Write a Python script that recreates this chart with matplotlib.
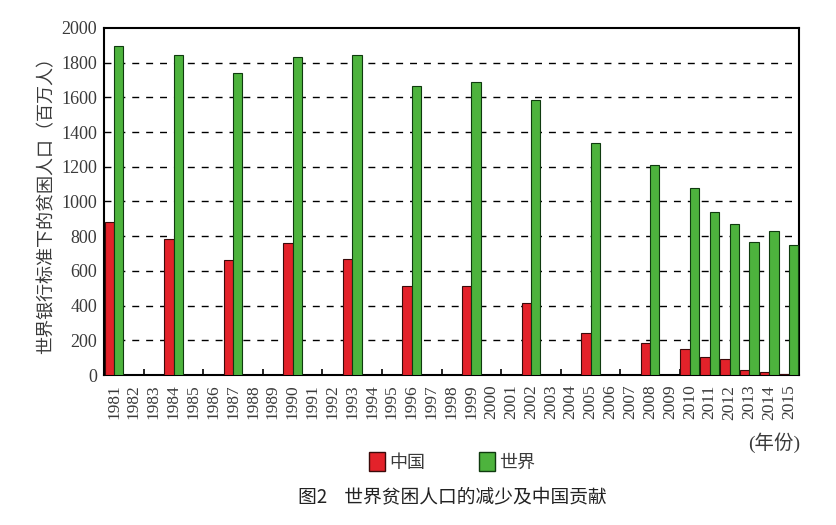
import numpy as np
import matplotlib
matplotlib.use("Agg")
import matplotlib.pyplot as plt
from matplotlib.patches import Patch

plt.rcParams["font.family"] = ["Liberation Serif", "Noto Sans CJK SC", "DejaVu Sans"]
plt.rcParams["axes.unicode_minus"] = False

years = list(range(1981, 2016))
china = {1981: 880, 1984: 785, 1987: 660, 1990: 760, 1993: 667, 1996: 512,
         1999: 512, 2002: 414, 2005: 244, 2008: 183, 2010: 150, 2011: 104,
         2012: 90, 2013: 28, 2014: 15, 2015: 6}
world = {1981: 1898, 1984: 1847, 1987: 1740, 1990: 1833, 1993: 1847, 1996: 1663,
         1999: 1686, 2002: 1586, 2005: 1336, 2008: 1209, 2010: 1075, 2011: 940,
         2012: 869, 2013: 769, 2014: 831, 2015: 748}
yticks = list(range(0, 2001, 200))

red = "#e3222a"
green = "#4db33d"
txt = "#3a3a3a"
serif = "Liberation Serif"

fig = plt.figure(figsize=(8.37, 5.25), dpi=100)
ax = fig.add_axes([0.1243, 0.2857, 0.8303, 0.661])

idx = {y: i for i, y in enumerate(years)}
w = 0.47
cx = [idx[y] for y in china]
wx = [idx[y] for y in world]
ax.bar(np.array(cx) - w / 2, list(china.values()), width=w, color=red,
       edgecolor="#3a0a0a", linewidth=0.8, zorder=3)
ax.bar(np.array(wx) + w / 2, list(world.values()), width=w, color=green,
       edgecolor="#0f3a0f", linewidth=0.8, zorder=3)

for v in yticks[1:-1]:
    ax.axhline(v, color="black", lw=1.0, ls=(0, (5, 5)), zorder=1)

ax.set_xlim(-0.5, len(years) - 0.5)
ax.set_ylim(0, 2000)
ax.set_yticks(yticks)
ax.set_yticklabels([str(v) for v in yticks], fontsize=13, color=txt, fontfamily=serif)
ax.tick_params(axis="y", length=0, pad=5)
ax.set_xticks(range(len(years)))
ax.set_xticklabels([str(y) for y in years], rotation=90, fontsize=12.5, color=txt,
                   fontfamily=serif)
ax.tick_params(axis="x", which="major", length=0, pad=7)
ax.set_xticks([k - 0.5 for k in range(2, len(years), 3)], minor=True)
ax.tick_params(axis="x", which="minor", direction="in", length=4, width=1.2)

for s in ax.spines.values():
    s.set_linewidth(1.5)
    s.set_color("black")

ax.set_ylabel("世界银行标准下的贫困人口（百万人）", fontsize=13, color=txt,
              family=["Noto Sans CJK SC"], labelpad=4)

fig.text(0.956, 0.157, "(年份)", fontsize=14, color=txt, ha="right", va="center",
         family=["Liberation Serif", "Noto Sans CJK SC"])

handles = [Patch(facecolor=red, edgecolor="#3a0a0a", label="中国"),
           Patch(facecolor=green, edgecolor="#0f3a0f", label="世界")]
leg = fig.legend(handles=handles, loc="center", bbox_to_anchor=(0.54, 0.12), ncol=2,
                 frameon=False, handlelength=0.9, handleheight=1.2,
                 handletextpad=0.2, columnspacing=3.0,
                 prop={"family": ["Noto Sans CJK SC"], "size": 13})
for t in leg.get_texts():
    t.set_color(txt)

fig.text(0.54, 0.053, "图2    世界贫困人口的减少及中国贡献", fontsize=13.5, color="#222222",
         ha="center", va="center", family=["Noto Sans CJK SC"])

fig.savefig("out.png", dpi=100, facecolor="white")
